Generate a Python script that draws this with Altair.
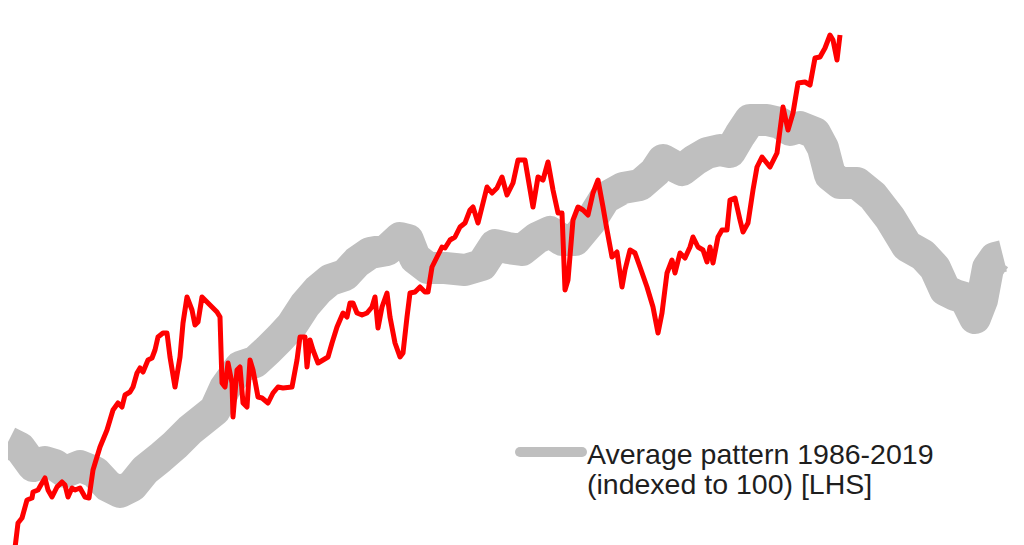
import altair as alt
import pandas as pd

# Average pattern 1986-2019 (grey, thick) : position along the year, level
avg_x = [0, 12, 25, 37, 47, 57, 72, 87, 100, 112, 124, 137, 152, 167, 182, 197, 207, 217, 232,
         247, 260, 272, 284, 297, 310, 322, 337, 349, 362, 379, 392, 400, 407, 420, 437, 457,
         474, 487, 500, 514, 529, 542, 554, 567, 582, 597, 615, 632, 647, 655, 664, 674, 687,
         699, 712, 722, 732, 742, 759, 772, 782, 792, 807, 815, 822, 832, 849, 865, 882, 899,
         915, 927, 937, 947, 957, 967, 974, 980, 987, 995]
avg_level = [103, 97, 79, 83, 80, 73, 79, 73, 59, 53, 59, 75, 87, 100, 115, 127, 135, 157,
             178, 183, 195, 207, 220, 240, 255, 265, 270, 283, 292, 295, 307, 305, 287, 277,
             277, 275, 280, 300, 297, 295, 307, 313, 305, 305, 323, 347, 357, 360, 373, 385,
             380, 375, 385, 392, 395, 393, 410, 425, 425, 422, 415, 418, 412, 397, 370, 362,
             362, 349, 327, 299, 290, 277, 255, 250, 247, 227, 245, 277, 287, 289]

# Current year (red)
cur_x = [7, 10, 14, 19, 24, 25, 30, 34, 37, 40, 44, 49, 54, 57, 60, 64, 67, 72, 77, 81, 85,
         92, 99, 105, 110, 114, 117, 122, 125, 129, 132, 135, 140, 144, 147, 150, 155, 159,
         162, 167, 172, 175, 179, 184, 187, 190, 194, 199, 204, 209, 212, 214, 217, 220, 224,
         225, 229, 232, 235, 239, 242, 245, 250, 254, 260, 265, 270, 275, 284, 289, 292, 297,
         299, 302, 305, 310, 315, 320, 324, 329, 332, 335, 339, 342, 345, 349, 354, 359, 364,
         367, 370, 374, 379, 382, 387, 392, 395, 399, 402, 407, 412, 417, 420, 424, 429, 434,
         437, 442, 447, 452, 457, 462, 465, 470, 475, 479, 484, 489, 494, 499, 505, 510, 517,
         525, 530, 535, 540, 545, 550, 554, 557, 560, 565, 570, 575, 580, 585, 590, 595, 599,
         604, 609, 614, 617, 622, 627, 632, 639, 645, 650, 654, 659, 664, 667, 672, 677, 682,
         685, 690, 695, 699, 702, 705, 710, 714, 719, 722, 727, 732, 735, 740, 745, 749, 754,
         762, 769, 775, 780, 785, 790, 797, 802, 807, 812, 817, 822, 825, 829, 832]
cur_level = [-3, 22, 27, 45, 47, 53, 55, 62, 67, 55, 48, 58, 63, 60, 48, 57, 55, 57, 48, 47,
             75, 98, 115, 135, 142, 138, 150, 153, 158, 172, 177, 173, 185, 187, 195, 208, 212,
             212, 188, 158, 188, 222, 248, 235, 220, 223, 248, 243, 238, 233, 228, 162, 158,
             182, 162, 128, 175, 178, 142, 138, 185, 175, 148, 147, 142, 152, 158, 157, 158,
             185, 208, 208, 178, 205, 195, 182, 185, 188, 202, 218, 225, 232, 228, 242, 242,
             232, 230, 232, 238, 248, 217, 238, 252, 228, 202, 188, 192, 228, 252, 253, 258,
             253, 253, 278, 288, 298, 297, 305, 308, 318, 322, 335, 338, 322, 342, 358, 352,
             357, 368, 350, 362, 385, 385, 338, 368, 365, 383, 355, 332, 332, 255, 265, 325,
             338, 335, 330, 352, 365, 338, 315, 288, 293, 258, 275, 295, 292, 278, 258, 238,
             212, 232, 272, 285, 272, 292, 287, 298, 308, 298, 295, 283, 298, 282, 308, 315,
             315, 345, 347, 325, 313, 322, 355, 378, 388, 378, 392, 438, 415, 432, 462, 463,
             460, 487, 488, 497, 510, 505, 485, 510]

avg = pd.DataFrame({"x": avg_x, "level": avg_level})
cur = pd.DataFrame({"x": cur_x, "level": cur_level})

legend_lines = ["Average pattern 1986-2019", "(indexed to 100) [LHS]"]

xs = alt.Scale(domain=[0, 1008])
ys = alt.Scale(domain=[0, 537])

grey = alt.Chart(avg).mark_line(
    color="#BFBFBF", strokeWidth=32, strokeJoin="round", strokeCap="butt"
).encode(
    x=alt.X("x:Q", scale=xs, axis=None),
    y=alt.Y("level:Q", scale=ys, axis=None),
)

red = alt.Chart(cur).mark_line(
    color="#FF0000", strokeWidth=5, strokeJoin="round"
).encode(
    x=alt.X("x:Q", scale=xs, axis=None),
    y=alt.Y("level:Q", scale=ys, axis=None),
)

swatch = alt.Chart(pd.DataFrame({"k": [0]})).mark_rule(
    color="#BFBFBF", strokeWidth=10, strokeCap="round"
).encode(x=alt.value(512), x2=alt.value(574), y=alt.value(444))

ltext = alt.Chart(pd.DataFrame({"t": [legend_lines]})).mark_text(
    align="left", baseline="alphabetic", font="Liberation Sans", fontSize=28.5,
    color="#1e1e1e", lineHeight=30
).encode(text="t", x=alt.value(579), y=alt.value(456))

chart = alt.layer(grey, red, swatch, ltext).properties(
    width=1008, height=537, padding=0, autosize=alt.AutoSizeParams(type="none")
).configure_view(stroke=None)

chart.save("out.html", embed_options={"renderer": "svg", "actions": False})
